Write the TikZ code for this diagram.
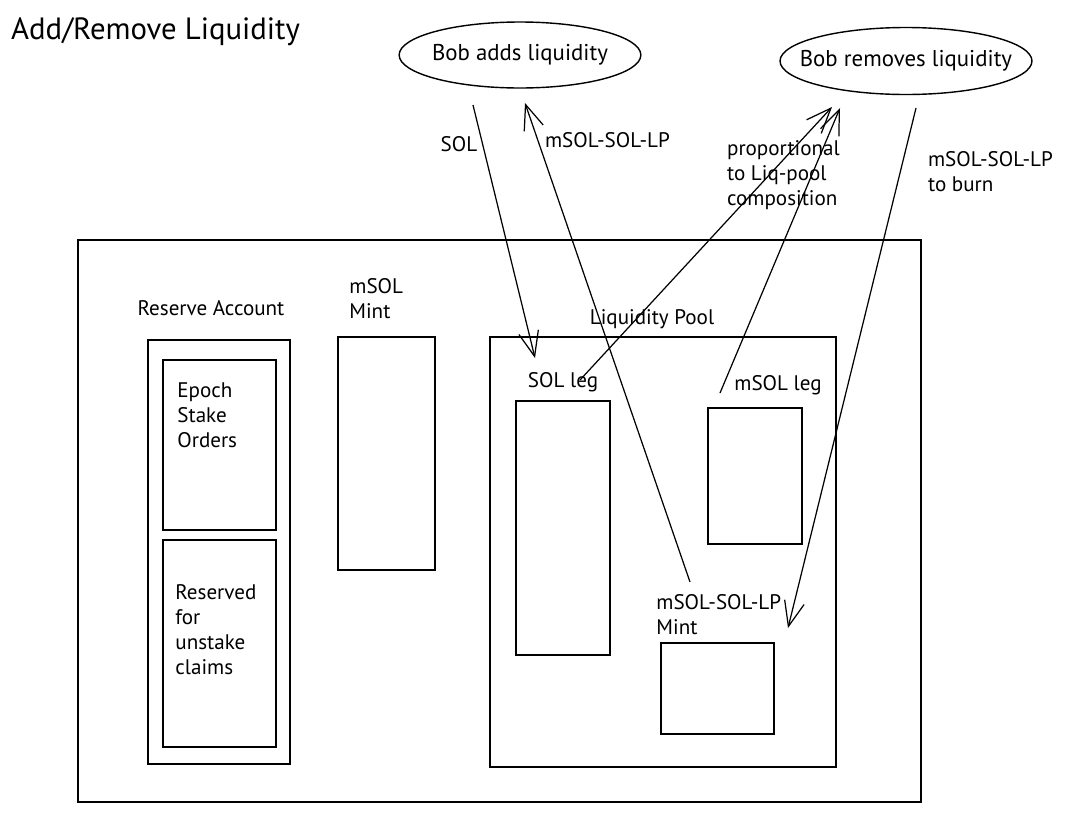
\documentclass[tikz,border=0pt]{standalone}
\usepackage{fontspec}
\setmainfont{PT Sans}
\usetikzlibrary{arrows.meta, positioning, shapes.geometric}

\begin{document}
\begin{tikzpicture}[x=0.02cm, y=-0.02cm,
    box/.style={draw, line width=0.8pt, inner sep=0pt},
    lbl/.style={font=\fontsize{12}{14.3}\selectfont, align=left, inner sep=1pt},
    actor/.style={draw, ellipse, line width=0.8pt, font=\fontsize{13}{15}\selectfont},
    flow/.style={-{Straight Barb[length=5mm, width=4mm]}, line width=0.7pt}]

    \useasboundingbox (0,0) rectangle (1068,812);

    % Title
    \node[font=\fontsize{17.5}{20}\selectfont, anchor=west] (title) at (5,32) {Add/Remove Liquidity};

    % Bob's two actions on top
    \node[actor, inner xsep=-0.05cm, minimum width=4.6cm, minimum height=1.32cm] (adds) at (520,55) {Bob adds liquidity};
    \node[actor, inner xsep=-0.36cm, minimum width=5.04cm, minimum height=1.34cm] (removes) at (906,61) {Bob removes liquidity};

    % Outer program box
    \node[box, minimum width=16.86cm, minimum height=11.24cm] (program) at (499.5,521) {};

    % Reserve account with its two parts
    \node[box, minimum width=2.84cm, minimum height=8.48cm] (reserve) at (219,552) {};
    \node[lbl, above=0.42cm of reserve, xshift=-0.16cm] (reservelbl) {Reserve Account};
    \node[box, minimum width=2.26cm, minimum height=3.4cm] (epoch) at (219.5,445) {};
    \node[lbl, anchor=north west] (epochlbl) at ([xshift=0.26cm, yshift=-0.42cm]epoch.north west) {Epoch\\Stake\\Orders};
    \node[box, minimum width=2.26cm, minimum height=4.14cm] (reserved) at (219.5,643.5) {};
    \node[lbl, anchor=north west] (reservedlbl) at ([xshift=0.22cm, yshift=-0.86cm]reserved.north west) {Reserved\\for\\unstake\\claims};

    % mSOL mint
    \node[box, minimum width=1.94cm, minimum height=4.66cm] (msolmint) at (386.5,453.5) {};
    \node[lbl, anchor=north west] (msolmintlbl) at ([xshift=0.2cm, yshift=1.2cm]msolmint.north west) {mSOL\\Mint};

    % Liquidity pool
    \node[box, minimum width=6.92cm, minimum height=8.6cm] (pool) at (663,552) {};
    \node[lbl, above=0.1cm of pool, xshift=-0.22cm] (poollbl) {Liquidity Pool};
    \node[box, minimum width=1.88cm, minimum height=5.08cm] (solleg) at (563,528) {};
    \node[lbl, above=0.12cm of solleg] (sollegl) {SOL leg};
    \node[box, minimum width=1.88cm, minimum height=2.72cm] (msolleg) at (755,476) {};
    \node[lbl, above=0.2cm of msolleg, xshift=0.46cm] (msollegl) {mSOL leg};
    \node[box, minimum width=2.26cm, minimum height=1.82cm] (lpmint) at (717.5,688.5) {};
    \node[lbl, anchor=north west] (lpmintlbl) at ([xshift=-0.12cm, yshift=1.0cm]lpmint.north west) {mSOL-SOL-LP\\Mint};

    % arrow ends
    \coordinate (solfrom) at (473,105);
    \coordinate (solto) at (535,358);
    \coordinate (lpfrom) at (690,582);
    \coordinate (lpto) at (525,103);
    \coordinate (solout) at (580,380);
    \coordinate (msolout) at (720,393);
    \coordinate (outto1) at (832,107);
    \coordinate (outto2) at (840,108);
    \coordinate (burnfrom) at (916,108);
    \coordinate (burnto) at (788,628);

    % adding liquidity
    \draw[flow] (solfrom) -- (solto);
    \node[lbl] (sollbl) at (459,144) {SOL};
    \draw[flow] (lpfrom) -- (lpto);
    \node[lbl, anchor=west] (lplbl) at (543,140) {mSOL-SOL-LP};

    % removing liquidity
    \draw[flow] (solout) -- (outto1);
    \draw[flow] (msolout) -- (outto2);
    \node[lbl, anchor=north west] (proplbl) at (725,138) {proportional\\to Liq-pool\\composition};
    \draw[flow] (burnfrom) -- (burnto);
    \node[lbl, anchor=north west] (burnlbl) at (926,149) {mSOL-SOL-LP\\to burn};
\end{tikzpicture}
\end{document}
